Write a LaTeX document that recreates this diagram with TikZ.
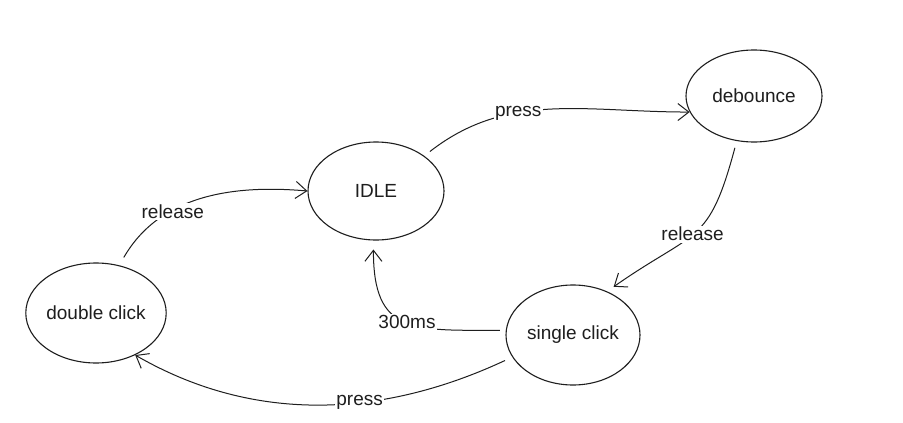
\documentclass[tikz,border=0pt]{standalone}
\usepackage{fontspec}
\setmainfont{Liberation Sans}
\definecolor{ink}{RGB}{30, 30, 30}
\usetikzlibrary{arrows.meta, positioning, shapes.geometric}
\tikzset{
	state/.style={ellipse, draw=ink, line width=1.1pt, inner sep=0pt, minimum width=136pt, minimum height=98pt, font=\fontsize{19}{22}\selectfont, text=ink},
	lbl/.style={fill=white, inner sep=1.5pt, font=\fontsize{19}{22}\selectfont, text=ink},
	arrow/.style={-{Straight Barb[length=11pt, width=17pt]}, line width=1pt, draw=ink},
}
\begin{document}
\begin{tikzpicture}[x=1pt, y=1pt]
		\useasboundingbox[fill=white] (0,0) rectangle (903,-423);
		\node[state] (idle) at (376,-191) {IDLE};
		\node[state, minimum height=92pt] (debounce) at (754,-96) {debounce};
		\node[state, minimum width=134pt, minimum height=100pt] (single) at (573,-335) {single click};
		\node[state, minimum width=134pt, minimum height=100pt] (double) at (96,-313) {double click};
		\draw[arrow, shorten <=7pt] (idle.36) to[out=38, in=180] node[lbl, pos=0.38] {press} (debounce.194);
		\draw[arrow, shorten <=7pt, shorten >=8pt] (debounce.249) to[out=255, in=35, looseness=1.4] node[lbl, pos=0.52] {release} (single.52);
		\draw[arrow, shorten <=6pt, shorten >=9pt] (single.176) to[out=180, in=270, looseness=1.5] node[lbl, pos=0.48] {300ms} (idle.267);
		\draw[arrow, shorten <=8pt] (single.200) to[out=205, in=-30, looseness=0.95] node[lbl, pos=0.4] {press} (double.313);
		\draw[arrow, shorten <=9pt] (double.64) to[out=60, in=175] node[lbl, pos=0.36] {release} (idle.180);
	\end{tikzpicture}
\end{document}
